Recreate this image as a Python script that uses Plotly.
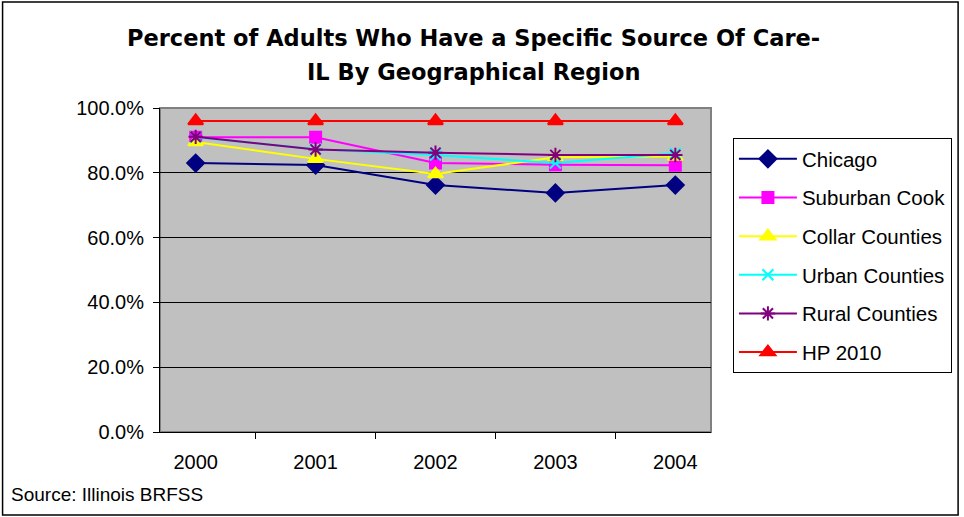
import plotly.graph_objects as go

# Data (percent)
years = ["2000", "2001", "2002", "2003", "2004"]
chicago = [83.0, 82.4, 76.2, 73.8, 76.2]
suburban_cook = [91.0, 91.0, 83.0, 82.5, 82.3]
collar_counties = [89.5, 84.3, 79.6, 84.8, 85.0]
urban_counties = [91.0, 87.3, 85.5, 83.0, 86.0]
rural_counties = [91.1, 87.2, 86.2, 85.5, 85.5]
hp_2010 = [96.0, 96.0, 96.0, 96.0, 96.0]

series = [
    ("Chicago", chicago, "#000080", "diamond", 13),
    ("Suburban Cook", suburban_cook, "#FF00FF", "square", 11),
    ("Collar Counties", collar_counties, "#FFFF00", "triangle-up", 13),
    ("Urban Counties", urban_counties, "#00FFFF", "x-thin-open", 11),
    ("Rural Counties", rural_counties, "#800080", "asterisk-open", 12),
    ("HP 2010", hp_2010, "#FF0000", "triangle-up", 13),
]

W, H = 964, 517
ml, mr, mt, mb = 160, 251, 108, 85
pw, ph = W - ml - mr, H - mt - mb


def px_x(x):
    return (x - ml) / pw


def px_y(y):
    return (mt + ph - y) / ph


fig = go.Figure()
for i, (name, vals, color, symbol, size) in enumerate(series):
    fig.add_trace(
        go.Scatter(
            x=years,
            y=vals,
            name=name,
            legendgroup=str(i),
            mode="lines+markers",
            line=dict(color=color, width=2),
            marker=dict(symbol=symbol, size=size, color=color,
                        line=dict(color=color, width=2)),
        )
    )

# outer frame around the whole chart
fig.add_shape(
    type="rect", xref="paper", yref="paper",
    x0=px_x(2), x1=px_x(W - 3), y0=px_y(H - 2), y1=px_y(2),
    line=dict(color="black", width=1.5), layer="below",
)
# grey plot-area border
fig.add_shape(
    type="rect", xref="paper", yref="paper", x0=0, x1=1, y0=0, y1=1,
    line=dict(color="#808080", width=2), layer="below",
)

title_font = dict(family="DejaVu Sans, Arial, sans-serif", size=22.5, color="black")
fig.add_annotation(
    text="<b>Percent of Adults Who Have a Specific Source Of Care-</b>",
    xref="paper", yref="paper", x=px_x(475), y=px_y(38),
    xanchor="center", yanchor="middle", showarrow=False, font=title_font,
)
fig.add_annotation(
    text="<b>IL By Geographical Region</b>",
    xref="paper", yref="paper", x=px_x(475), y=px_y(72),
    xanchor="center", yanchor="middle", showarrow=False, font=title_font,
)
fig.add_annotation(
    text="Source: Illinois BRFSS", xref="paper", yref="paper",
    x=px_x(8), y=px_y(494), xanchor="left", yanchor="middle",
    showarrow=False, font=dict(size=19, color="black"),
)

fig.update_layout(
    width=W,
    height=H,
    margin=dict(l=ml, r=mr, t=mt, b=mb),
    paper_bgcolor="white",
    plot_bgcolor="#C0C0C0",
    font=dict(family="Liberation Sans, Arial, sans-serif", color="black"),
    xaxis=dict(
        type="category",
        tickson="boundaries",
        ticks="outside",
        ticklen=6,
        tickcolor="black",
        showline=True,
        linecolor="black",
        linewidth=1,
        showgrid=False,
        tickfont=dict(size=20),
        ticklabelstandoff=12,
    ),
    yaxis=dict(
        range=[0, 100],
        dtick=20,
        tickformat=".1f",
        ticksuffix="%",
        ticks="outside",
        ticklen=6,
        tickcolor="black",
        showline=True,
        linecolor="black",
        linewidth=1,
        gridcolor="black",
        gridwidth=1,
        zeroline=False,
        tickfont=dict(size=20),
        ticklabelstandoff=5,
    ),
    legend=dict(
        x=px_x(735),
        y=px_y(138),
        xanchor="left",
        yanchor="top",
        bgcolor="white",
        bordercolor="black",
        borderwidth=1,
        font=dict(size=20.5),
        itemwidth=58,
        traceorder="grouped",
        tracegroupgap=9,
    ),
)

fig.write_html(
    "out.html",
    config={"displayModeBar": False},
    post_script="document.body.style.margin='0';",
)
